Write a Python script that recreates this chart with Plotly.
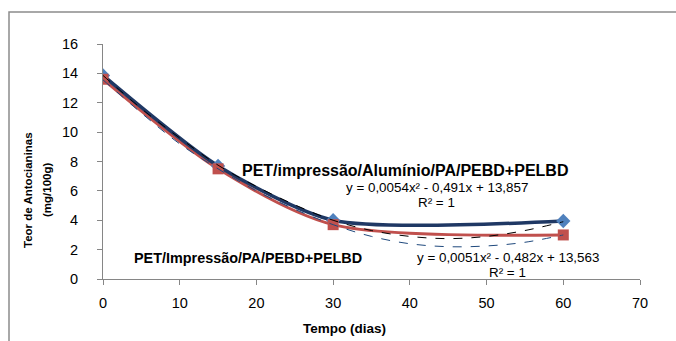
import plotly.graph_objects as go

# Data
dias = [0, 15, 30, 60]
aluminio = [13.86, 7.7, 4.0, 3.95]          # PET/impressão/Alumínio/PA/PEBD+PELBD
sem_aluminio = [13.6, 7.5, 3.7, 3.0]        # PET/Impressão/PA/PEBD+PELBD

trend_x = [0, 5, 10, 15, 20, 25, 30, 35, 40, 45, 50, 55, 60]
trend_aluminio = [13.86, 11.6, 9.6, 7.75, 6.3, 5.05, 4.0, 3.3, 2.9, 2.75, 2.9, 3.3, 3.9]
trend_sem_aluminio = [13.56, 11.3, 9.2, 7.5, 6.0, 4.75, 3.7, 2.9, 2.4, 2.2, 2.25, 2.5, 3.0]

x_ticks = [0, 10, 20, 30, 40, 50, 60, 70]
y_ticks = [0, 2, 4, 6, 8, 10, 12, 14, 16]

NAVY = "#1F3864"
BLUE = "#4F81BD"
RED = "#C0504D"
FONT = "Liberation Sans"

fig = go.Figure()
# lines
fig.add_trace(go.Scatter(x=dias, y=sem_aluminio, mode="lines",
                         line=dict(color=RED, width=3, shape="spline", smoothing=0.8),
                         showlegend=False, hoverinfo="skip"))
fig.add_trace(go.Scatter(x=dias, y=aluminio, mode="lines",
                         line=dict(color=NAVY, width=3.5, shape="spline", smoothing=0.7),
                         showlegend=False, hoverinfo="skip"))
# markers
fig.add_trace(go.Scatter(x=dias, y=aluminio, mode="markers",
                         marker=dict(symbol="diamond", size=11, color=BLUE),
                         showlegend=False))
fig.add_trace(go.Scatter(x=dias, y=sem_aluminio, mode="markers",
                         marker=dict(symbol="square", size=11, color=RED),
                         showlegend=False))
# trendlines
fig.add_trace(go.Scatter(x=trend_x, y=trend_aluminio, mode="lines",
                         line=dict(color="black", width=1, dash="dash", shape="spline"),
                         showlegend=False, hoverinfo="skip"))
fig.add_trace(go.Scatter(x=trend_x, y=trend_sem_aluminio, mode="lines",
                         line=dict(color="#1F497D", width=1, dash="dash", shape="spline"),
                         showlegend=False, hoverinfo="skip"))

W, H = 676, 341
L, R, T, B = 103, 36, 44, 62
pw, ph = W - L - R, H - T - B

def px(x):
    return (x - L) / pw

def py(y):
    return (H - B - y) / ph

annotations = [
    dict(text="<b>PET/impressão/Alumínio/PA/PEBD+PELBD</b>", x=px(405), y=py(170),
         font=dict(size=16, color="black", family=FONT)),
    dict(text="y = 0,0054x² - 0,491x + 13,857", x=px(437), y=py(187),
         font=dict(size=13.4, color="black", family=FONT)),
    dict(text="R² = 1", x=px(436), y=py(202),
         font=dict(size=13.4, color="black", family=FONT)),
    dict(text="<b>PET/Impressão/PA/PEBD+PELBD</b>", x=px(248), y=py(258),
         font=dict(size=14.4, color="black", family=FONT)),
    dict(text="y = 0,0051x² - 0,482x + 13,563", x=px(508), y=py(257),
         font=dict(size=13.4, color="black", family=FONT)),
    dict(text="R² = 1", x=px(507), y=py(272),
         font=dict(size=13.4, color="black", family=FONT)),
    dict(text="<b>Tempo (dias)</b>", x=px(344), y=py(328),
         font=dict(size=13.5, color="black", family=FONT)),
    dict(text="<b>Teor de Antocianinas</b>", x=px(28), y=py(190),
         textangle=-90, font=dict(size=11.5, color="black", family=FONT)),
    dict(text="<b>(mg/100g)</b>", x=px(47), y=py(190),
         textangle=-90, font=dict(size=11.5, color="black", family=FONT)),
]
for a in annotations:
    a.update(xref="paper", yref="paper", showarrow=False, xanchor="center", yanchor="middle")

fig.update_layout(
    width=W, height=H,
    margin=dict(l=L, r=R, t=T, b=B),
    paper_bgcolor="white", plot_bgcolor="white",
    font=dict(family=FONT, size=13, color="black"),
    annotations=annotations,
    hovermode=False,
    shapes=[dict(type="rect", xref="paper", yref="paper",
                 x0=px(9), x1=px(700), y0=py(360), y1=py(12),
                 line=dict(color="#8C8C8C", width=1.5))],
    xaxis=dict(range=[0, 70], tickvals=x_ticks, showgrid=False, zeroline=False,
               showline=True, linecolor="#868686", linewidth=1,
               ticks="outside", ticklen=5, tickcolor="#868686",
               tickfont=dict(size=14.5, family=FONT), ticklabelstandoff=6),
    yaxis=dict(range=[0, 16], tickvals=y_ticks, showgrid=False, zeroline=False,
               showline=True, linecolor="#868686", linewidth=1,
               ticks="outside", ticklen=5, tickcolor="#868686",
               tickfont=dict(size=14.5, family=FONT), ticklabelstandoff=16),
)

fig.write_html("out.html", config={"displayModeBar": False},
               post_script="document.body.style.margin='0';document.body.style.overflow='hidden';")
